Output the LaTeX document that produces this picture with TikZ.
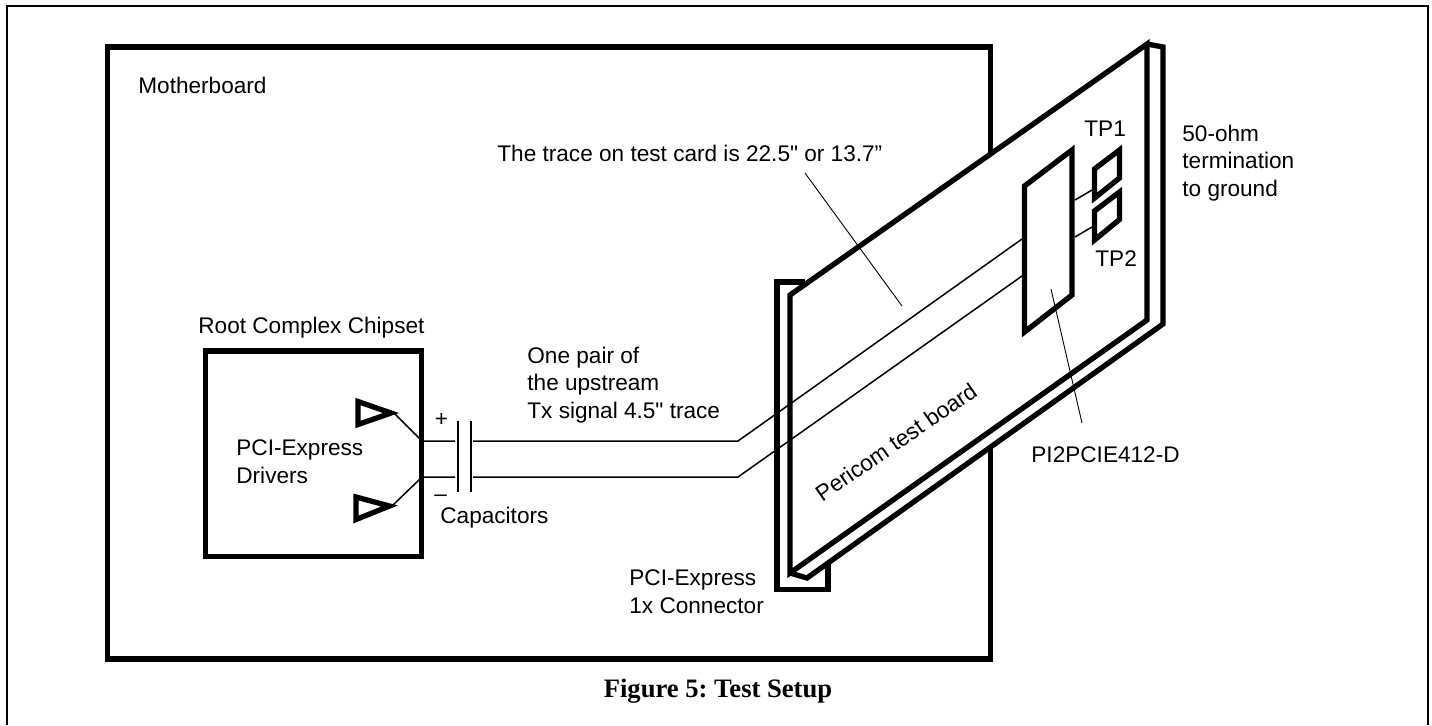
\documentclass[tikz,border=0pt]{standalone}
\usepackage{fontspec}
\newfontfamily\labelfont{Liberation Sans}
\newfontfamily\captionfont{Liberation Serif}
\def\BoxWd{2.65pt}
\def\WireWd{0.75pt}
\tikzset{
  heavy/.style={line width=\BoxWd, miter limit=10},
  wire/.style={line width=\WireWd},
  leader/.style={line width=0.45pt},
  label/.style={font=\labelfont\fontsize{11.3}{13.7}\selectfont, inner sep=0pt, align=left, anchor=base west},
}

\begin{document}
\begin{tikzpicture}[x=0.5pt, y=-0.5pt]
  \useasboundingbox (0, 0) rectangle (1432, 725);
  \draw[line width=1pt] (6.5, 725) -- (6.5, 6) -- (1428, 6) -- (1428, 725);

  % motherboard, hidden behind the card
  \draw[heavy] (990.5, 154) -- (990.5, 47) -- (107.5, 47) -- (107.5, 659) -- (990.5, 659) -- (990.5, 447);
  \node[label] (motherboard) at (138, 93) {Motherboard};

  % chipset and drivers
  \draw[heavy] (205.5, 351) rectangle (421.5, 556.5);
  \node[label] (chipset) at (198, 333) {Root Complex Chipset};
  \node[label] (drivers) at (236, 483) {PCI-Express\\Drivers};
  \draw[heavy] (358, 401.5) -- (358, 424.5) -- (391, 413) -- cycle;
  \draw[heavy] (356, 497) -- (356, 519.5) -- (389.5, 506) -- cycle;

  \coordinate (tipa) at (395, 414);
  \coordinate (tipb) at (393, 505);
  \coordinate (pina) at (422, 441);
  \coordinate (pinb) at (422, 477);
  \draw[wire] (tipa) -- (pina) -- (455, 441);
  \draw[wire] (tipb) -- (pinb) -- (455, 477);

  % capacitors
  \draw[wire] (458, 421) -- (458, 492);
  \draw[wire] (471, 421) -- (471, 492);
  \node[label] (plus) at (434.5, 426) {+};
  \node[label] (minus) at (434, 501) {–};
  \node[label] (caps) at (440, 523) {Capacitors};
  \node[label] (pair) at (527, 418) {One pair of\\the upstream\\Tx signal 4.5" trace};

  % connector
  \draw[heavy] (805, 282) -- (777, 282) -- (777, 589.5) -- (828, 589.5) -- (828, 563);
  \node[label] (pcie) at (629, 613) {PCI-Express\\1x Connector};

  % test card
  \draw[heavy] (790, 295) -- (1147, 44) -- (1147, 320) -- (790, 573) -- cycle;
  \draw[heavy] (1147, 44) -- (1163, 47) -- (1163, 324) -- (807, 578) -- (790, 573);
  \node[label, rotate=34.5, anchor=center] (pericom) at (896, 442) {Pericom test board};
  \node[label] (trace) at (497, 161) {The trace on test card is 22.5" or 13.7”};
  \node[label] (termination) at (1182, 196) {50-ohm\\termination\\to ground};

  % traces across the card
  \coordinate (ica) at (1022, 239);
  \coordinate (icb) at (1022, 276);
  \draw[wire] (473, 441) -- (738, 441) -- (ica);
  \draw[wire] (473, 477) -- (738, 477) -- (icb);

  % redriver and test points
  \draw[heavy] (1024.5, 186) -- (1072, 150) -- (1072, 295) -- (1024.5, 332) -- cycle;
  \node[label] (redriver) at (1031, 462) {PI2PCIE412-D};
  \draw[heavy] (1094.5, 169) -- (1119.5, 150) -- (1119.5, 178) -- (1094.5, 198) -- cycle;
  \draw[heavy] (1094.5, 211) -- (1119.5, 192) -- (1119.5, 219.5) -- (1094.5, 240) -- cycle;
  \node[label] (tpa) at (1084, 136) {TP1};
  \node[label] (tpb) at (1095, 266) {TP2};
  \draw[wire] (1075, 200) -- (1092, 190);
  \draw[wire] (1075, 237) -- (1092, 227);

  % leaders
  \draw[leader] (805, 173) -- (902, 306);
  \draw[leader] (1051, 289) -- (1082, 423);

  \node[font=\captionfont\bfseries\fontsize{13.3}{15}\selectfont, inner sep=0pt, anchor=base] (caption) at (718, 697) {\frenchspacing Figure 5: Test Setup};
\end{tikzpicture}
\end{document}
